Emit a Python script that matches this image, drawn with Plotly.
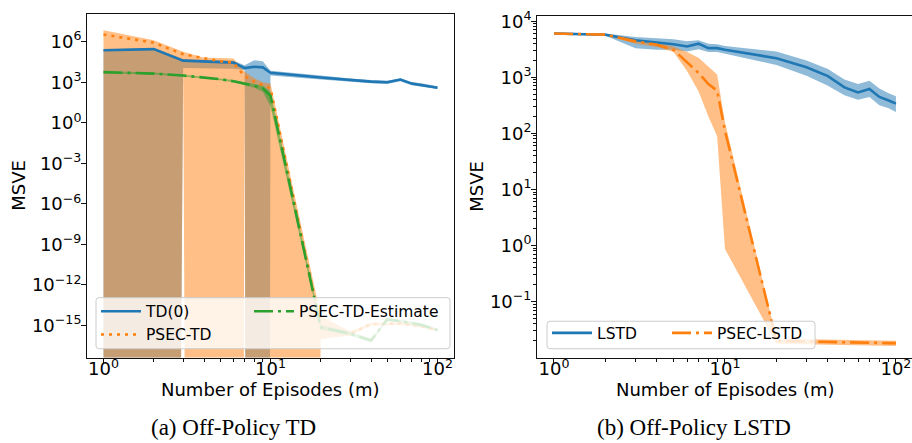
import plotly.graph_objects as go

# ---------------- data ----------------
episodes = [1, 2, 3, 4, 5, 6, 7, 8, 9, 10, 20, 30, 40, 50, 60, 70, 80, 90, 100]

# (a) Off-Policy TD   (0 = mean-std <= 0, i.e. off the log scale)
td_mean = [2.34e5, 2.82e5, 3.98e4, 3.39e4, 3.39e4, 2.82e4, 1.12e4, 1.41e4, 1.26e4, 5.0e3,
           2.24e3, 1.41e3, 1.12e3, 1.0e3, 1.58e3, 794, 631, 501, 398]
td_hi = [2.82e5, 3.31e5, 5.25e4, 4.79e4, 4.57e4, 3.98e4, 1.78e4, 4.17e4, 3.55e4, 7.08e3,
         3.16e3, 1.86e3, 1.48e3, 1.32e3, 2.0e3, 1.05e3, 832, 661, 501]
td_lo = [0, 0, 1.12e4, 1.07e4, 1.05e4, 1.0e4, 7.94e3, 0, 0, 3.16e3,
         1.58e3, 1.05e3, 851, 759, 1.2e3, 603, 479, 380, 316]

psec_td_mean = [3.39e6, 8.51e5, 1.2e5, 5.62e4, 3.55e4, 2.82e4, 2.82e3, 1.12e3, 631, 355,
                7.2e-16, 2.5e-16, 1.26e-15, 1.32e-15, 1.41e-15, 1.12e-15, 8.9e-16, 6.3e-16, 4.6e-16]
psec_td_hi = [7.08e6, 1.26e6, 1.78e5, 6.61e4, 6.31e4, 5.62e4, 6.31e3, 2.0e3, 1.0e3, 794,
              5.0e-15, 3.55e-16, 1.58e-15, 1.58e-15, 1.66e-15, 1.32e-15, 1.05e-15, 7.6e-16, 5.5e-16]
psec_td_lo = [0, 0, 1.0e4, 0, 0, 0, 2.0e3, 0, 0, 0,
              1.0e-16, 1.8e-16, 1.0e-15, 1.05e-15, 1.12e-15, 9.0e-16, 7.1e-16, 5.0e-16, 3.8e-16]

est_mean = [5.62e3, 4.37e3, 3.16e3, 2.24e3, 1.66e3, 1.2e3, 794, 562, 355, 100,
            7.2e-16, 2.5e-16, 7.9e-17, 2.8e-15, 2.1e-15, 1.58e-15, 1.12e-15, 7.1e-16, 4.6e-16]
est_hi = [6.61e3, 5.25e3, 3.63e3, 2.63e3, 2.0e3, 1.48e3, 1.0e3, 759, 562, 200,
          1.12e-15, 3.5e-16, 1.1e-16, 3.5e-15, 2.6e-15, 2.0e-15, 1.4e-15, 9.0e-16, 5.8e-16]
est_lo = [4.68e3, 3.72e3, 2.69e3, 1.91e3, 1.41e3, 1.0e3, 631, 398, 200, 15.8,
          5.0e-16, 1.8e-16, 5.5e-17, 2.2e-15, 1.7e-15, 1.25e-15, 9.0e-16, 5.6e-16, 3.6e-16]

# (b) Off-Policy LSTD
lstd_mean = [6.03e3, 5.75e3, 4.57e3, 4.17e3, 3.89e3, 3.55e3, 3.98e3, 3.31e3, 3.31e3, 3.09e3,
             2.19e3, 1.51e3, 1.05e3, 661, 537, 617, 447, 389, 339]
lstd_hi = [6.31e3, 6.03e3, 5.25e3, 5.01e3, 4.79e3, 4.37e3, 4.57e3, 3.98e3, 3.89e3, 3.63e3,
           2.88e3, 2.0e3, 1.41e3, 912, 759, 871, 631, 525, 457]
lstd_lo = [5.75e3, 5.5e3, 3.31e3, 3.09e3, 3.09e3, 2.88e3, 3.16e3, 2.82e3, 2.82e3, 2.63e3,
           1.66e3, 1.07e3, 708, 479, 398, 447, 316, 282, 240]

psec_lstd_mean = [6.03e3, 5.75e3, 4.37e3, 3.8e3, 3.09e3, 1.82e3, 1.2e3, 759, 575, 112,
                  0.02, 0.0195, 0.019, 0.019, 0.0186, 0.0186, 0.0182, 0.0182, 0.0182]
psec_lstd_hi = [6.17e3, 5.89e3, 4.79e3, 4.17e3, 3.55e3, 2.82e3, 2.24e3, 1.58e3, 1.12e3, 158,
                0.0219, 0.0214, 0.0209, 0.0209, 0.0204, 0.0204, 0.02, 0.02, 0.02]
psec_lstd_lo = [5.89e3, 5.62e3, 3.98e3, 3.47e3, 2.82e3, 1.29e3, 562, 200, 89, 0.87,
                0.0178, 0.0174, 0.017, 0.017, 0.0166, 0.0166, 0.0162, 0.0162, 0.0162]

x_tick_vals = [1, 10, 100]
x_tick_text = ["10<sup>0</sup>", "10<sup>1</sup>", "10<sup>2</sup>"]
ya_tick_vals = [1e6, 1e3, 1, 1e-3, 1e-6, 1e-9, 1e-12, 1e-15]
ya_tick_text = ["10<sup>6</sup>", "10<sup>3</sup>", "10<sup>0</sup>", "10<sup>\u22123</sup>",
                "10<sup>\u22126</sup>", "10<sup>\u22129</sup>", "10<sup>\u221212</sup>",
                "10<sup>\u221215</sup>"]
yb_tick_vals = [1e4, 1e3, 1e2, 1e1, 1, 1e-1]
yb_tick_text = ["10<sup>4</sup>", "10<sup>3</sup>", "10<sup>2</sup>", "10<sup>1</sup>",
                "10<sup>0</sup>", "10<sup>\u22121</sup>"]

# ---------------- styling ----------------
W, H = 912, 443
BLUE, ORANGE, GREEN = "#1f77b4", "#ff7f0e", "#2ca02c"
FILLS = {BLUE: "rgba(31,119,180,0.5)", ORANGE: "rgba(255,127,14,0.5)", GREEN: "rgba(44,160,44,0.5)"}
FONT = "DejaVu Sans"
LW = 2.6
DOT = "3px,5px"
DASHDOT = "19px,5px,3px,5px"


def clip(v):
    # like matplotlib's nonpositive='clip' on a log axis
    return [a if a > 0 else 1e-300 for a in v]


def px(p):
    return p / W


def py(p):
    return 1 - p / H


fig = go.Figure()


def band(lo, hi, color, xa, ya):
    fig.add_trace(go.Scatter(x=episodes, y=clip(lo), mode="lines", line=dict(width=0, color=color),
                             showlegend=False, hoverinfo="skip", xaxis=xa, yaxis=ya))
    fig.add_trace(go.Scatter(x=episodes, y=clip(hi), mode="lines", line=dict(width=0, color=color),
                             fill="tonexty", fillcolor=FILLS[color], showlegend=False,
                             hoverinfo="skip", xaxis=xa, yaxis=ya))


def line(y, color, dash, name, xa, ya, legend, rank):
    fig.add_trace(go.Scatter(x=episodes, y=y, mode="lines", name=name,
                             line=dict(color=color, width=LW, dash=dash),
                             xaxis=xa, yaxis=ya, legend=legend, legendrank=rank))


band(td_lo, td_hi, BLUE, "x", "y")
band(psec_td_lo, psec_td_hi, ORANGE, "x", "y")
band(est_lo, est_hi, GREEN, "x", "y")
line(td_mean, BLUE, "solid", "TD(0)", "x", "y", "legend", 1)
line(psec_td_mean, ORANGE, DOT, "PSEC-TD", "x", "y", "legend", 2)
line(est_mean, GREEN, DASHDOT, "PSEC-TD-Estimate", "x", "y", "legend2", 1)

band(lstd_lo, lstd_hi, BLUE, "x2", "y2")
band(psec_lstd_lo, psec_lstd_hi, ORANGE, "x2", "y2")
line(lstd_mean, BLUE, "solid", "LSTD", "x2", "y2", "legend3", 1)
line(psec_lstd_mean, ORANGE, DASHDOT, "PSEC-LSTD", "x2", "y2", "legend4", 1)

minor_x = [2, 3, 4, 5, 6, 7, 8, 9, 20, 30, 40, 50, 60, 70, 80, 90]
minor_yb = [m * 10.0 ** e for e in range(-2, 4) for m in range(2, 10)]

axis_common = dict(type="log", showgrid=False, zeroline=False, showline=True, linecolor="#111",
                   linewidth=1, ticks="outside", ticklen=5, tickwidth=1, tickcolor="#111",
                   tickfont=dict(family=FONT, size=18, color="black"), tickmode="array")
minor_common = dict(ticks="outside", ticklen=3, tickwidth=0.8, tickcolor="#111",
                    tickmode="array", showgrid=False)
leg_font = dict(family=FONT, size=15.5, color="black")


def legend_at(x, y):
    return dict(x=px(x), y=py(y), xanchor="left", yanchor="top", bgcolor="rgba(0,0,0,0)",
                borderwidth=0, font=leg_font, tracegroupgap=0, orientation="v",
                traceorder="normal", itemwidth=40)


fig.update_layout(
    width=W, height=H, margin=dict(l=0, r=0, t=0, b=0),
    paper_bgcolor="white", plot_bgcolor="white",
    xaxis=dict(**axis_common, domain=[px(87), px(454)], range=[-0.0988, 2.099], anchor="y",
               mirror=True, tickvals=x_tick_vals, ticktext=x_tick_text, ticklabelstandoff=-10,
               minor=dict(**minor_common, tickvals=minor_x)),
    yaxis=dict(**axis_common, domain=[py(356), py(5.7)], range=[-17.37, 8.08], anchor="x",
               mirror=True, tickvals=ya_tick_vals, ticktext=ya_tick_text, ticklabelstandoff=-4),
    xaxis2=dict(**axis_common, domain=[px(537), 1.0], range=[-0.0994, 2.094], anchor="y2",
                mirror=True, tickvals=x_tick_vals, ticktext=x_tick_text, ticklabelstandoff=-10,
                minor=dict(**minor_common, tickvals=minor_x)),
    yaxis2=dict(**axis_common, domain=[py(356), py(8.3)], range=[-1.997, 4.09], anchor="x2",
                mirror=False, tickvals=yb_tick_vals, ticktext=yb_tick_text, ticklabelstandoff=-4,
                minor=dict(**minor_common, tickvals=minor_yb)),
    legend=legend_at(96, 292),
    legend2=legend_at(249, 292),
    legend3=legend_at(547, 314),
    legend4=legend_at(667, 314),
    showlegend=True,
)


def rounded_box(x0, y0, x1, y1, r=3):
    p = (f"M {px(x0 + r)},{py(y0)} L {px(x1 - r)},{py(y0)} Q {px(x1)},{py(y0)} {px(x1)},{py(y0 + r)} "
         f"L {px(x1)},{py(y1 - r)} Q {px(x1)},{py(y1)} {px(x1 - r)},{py(y1)} "
         f"L {px(x0 + r)},{py(y1)} Q {px(x0)},{py(y1)} {px(x0)},{py(y1 - r)} "
         f"L {px(x0)},{py(y0 + r)} Q {px(x0)},{py(y0)} {px(x0 + r)},{py(y0)} Z")
    fig.add_shape(type="path", path=p, xref="paper", yref="paper", layer="above",
                  fillcolor="rgba(255,255,255,0.8)", line=dict(color="#cccccc", width=1))


rounded_box(96, 295, 450, 347)
rounded_box(547, 319, 815, 347)

ann_font = dict(family=FONT, size=18, color="black")
fig.add_annotation(text="MSVE", x=px(19), y=py(181), xref="paper", yref="paper", textangle=-90,
                   showarrow=False, font=ann_font, xanchor="center", yanchor="middle")
fig.add_annotation(text="MSVE", x=px(477), y=py(182), xref="paper", yref="paper", textangle=-90,
                   showarrow=False, font=ann_font, xanchor="center", yanchor="middle")
fig.add_annotation(text="Number of Episodes (m)", x=px(270), y=py(389), xref="paper", yref="paper",
                   showarrow=False, font=ann_font, xanchor="center", yanchor="middle")
fig.add_annotation(text="Number of Episodes (m)", x=px(725), y=py(389), xref="paper", yref="paper",
                   showarrow=False, font=ann_font, xanchor="center", yanchor="middle")
cap_font = dict(family="Liberation Serif", size=23, color="black")
fig.add_annotation(text="(a) Off-Policy TD", x=px(233), y=py(427), xref="paper", yref="paper",
                   showarrow=False, font=cap_font, xanchor="center", yanchor="middle")
fig.add_annotation(text="(b) Off-Policy LSTD", x=px(694), y=py(427), xref="paper", yref="paper",
                   showarrow=False, font=cap_font, xanchor="center", yanchor="middle")

fig.write_html("out.html", config={"displayModeBar": False},
               post_script="document.body.style.margin='0px';")
